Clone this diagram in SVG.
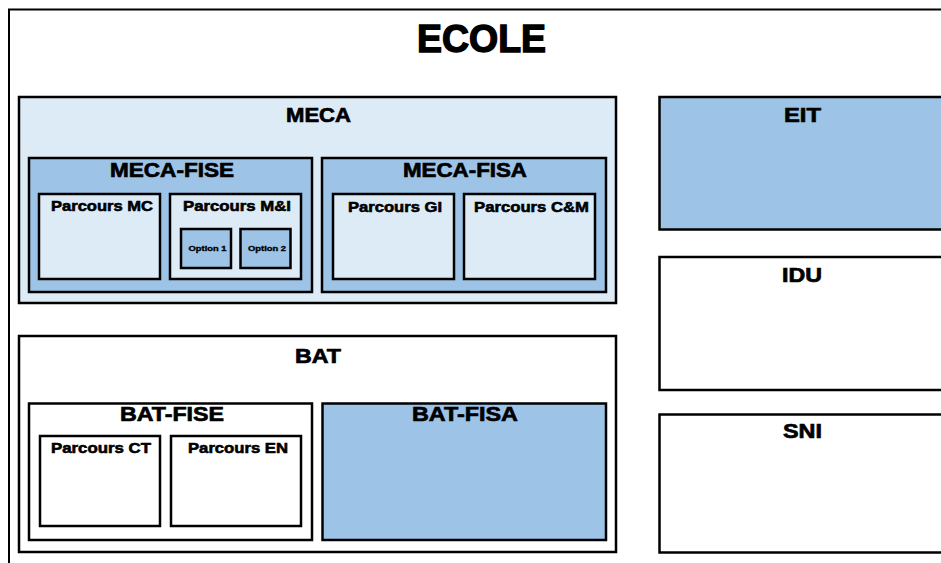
<svg xmlns="http://www.w3.org/2000/svg" width="941" height="563" viewBox="0 0 941 563">
<style>
.box{stroke:#000;stroke-width:2.5}
.l{fill:#DDEBF7}.m{fill:#9DC3E6}.w{fill:#fff}
text{font-family:"Liberation Sans",Arial,sans-serif;font-weight:bold;fill:#000;stroke:#000;text-anchor:middle}
.t1{font-size:38px;stroke-width:1.4}.t2{font-size:21px;stroke-width:0.7}.t3{font-size:15px;stroke-width:0.6}.t4{font-size:6.5px;stroke-width:0.3}
</style>
<rect width="941" height="563" fill="#fff"/>
<g id="ecole">
<rect x="9" y="9.5" width="940" height="560" fill="#fff" stroke="#000" stroke-width="2"/>
<text class="t1" x="481.5" y="52" textLength="129" lengthAdjust="spacingAndGlyphs">ECOLE</text>
</g>
<g id="meca">
<rect class="box l" x="19" y="97" width="597" height="206"/>
<text class="t2" x="318.5" y="122" textLength="65" lengthAdjust="spacingAndGlyphs">MECA</text>
</g>
<g id="meca-fise">
<rect class="box m" x="29" y="158" width="283" height="134"/>
<text class="t2" x="172" y="177" textLength="124" lengthAdjust="spacingAndGlyphs">MECA-FISE</text>
</g>
<g id="parcours-mc">
<rect class="box l" x="39" y="194" width="121" height="85"/>
<text class="t3" x="102" y="211" textLength="102" lengthAdjust="spacingAndGlyphs">Parcours MC</text>
</g>
<g id="parcours-mi">
<rect class="box l" x="170" y="194" width="131" height="85"/>
<text class="t3" x="237" y="211" textLength="108" lengthAdjust="spacingAndGlyphs">Parcours M&amp;I</text>
</g>
<g id="option-1">
<rect class="box m" x="181" y="229" width="50" height="39"/>
<text class="t4" x="207.5" y="251" textLength="38" lengthAdjust="spacingAndGlyphs">Option 1</text>
</g>
<g id="option-2">
<rect class="box m" x="240.5" y="229" width="50" height="39"/>
<text class="t4" x="267" y="251" textLength="38" lengthAdjust="spacingAndGlyphs">Option 2</text>
</g>
<g id="meca-fisa">
<rect class="box m" x="322" y="158" width="284" height="134"/>
<text class="t2" x="465" y="177" textLength="124" lengthAdjust="spacingAndGlyphs">MECA-FISA</text>
</g>
<g id="parcours-gi">
<rect class="box l" x="333" y="194" width="121" height="85"/>
<text class="t3" x="395" y="212" textLength="94" lengthAdjust="spacingAndGlyphs">Parcours GI</text>
</g>
<g id="parcours-cm">
<rect class="box l" x="464" y="194" width="131" height="85"/>
<text class="t3" x="531.5" y="212" textLength="115" lengthAdjust="spacingAndGlyphs">Parcours C&amp;M</text>
</g>
<g id="bat">
<rect class="box w" x="19" y="336" width="597" height="216"/>
<text class="t2" x="318" y="363" textLength="46" lengthAdjust="spacingAndGlyphs">BAT</text>
</g>
<g id="bat-fise">
<rect class="box w" x="29" y="403.5" width="283" height="136.5"/>
<text class="t2" x="172" y="421" textLength="104" lengthAdjust="spacingAndGlyphs">BAT-FISE</text>
</g>
<g id="parcours-ct">
<rect class="box w" x="40" y="436" width="120" height="90"/>
<text class="t3" x="101" y="453" textLength="100" lengthAdjust="spacingAndGlyphs">Parcours CT</text>
</g>
<g id="parcours-en">
<rect class="box w" x="171" y="436" width="130" height="90"/>
<text class="t3" x="238" y="453" textLength="100" lengthAdjust="spacingAndGlyphs">Parcours EN</text>
</g>
<g id="bat-fisa">
<rect class="box m" x="322.5" y="403.5" width="283.5" height="136.5"/>
<text class="t2" x="465" y="421" textLength="106" lengthAdjust="spacingAndGlyphs">BAT-FISA</text>
</g>
<g id="eit">
<rect class="box m" x="659.5" y="97" width="300" height="132.5"/>
<text class="t2" x="802.5" y="122" textLength="37" lengthAdjust="spacingAndGlyphs">EIT</text>
</g>
<g id="idu">
<rect class="box w" x="659.5" y="257" width="300" height="133"/>
<text class="t2" x="802" y="282" textLength="40" lengthAdjust="spacingAndGlyphs">IDU</text>
</g>
<g id="sni">
<rect class="box w" x="659.5" y="414.5" width="300" height="138"/>
<text class="t2" x="802.5" y="438" textLength="39" lengthAdjust="spacingAndGlyphs">SNI</text>
</g>
<g id="connectors"></g>
</svg>
